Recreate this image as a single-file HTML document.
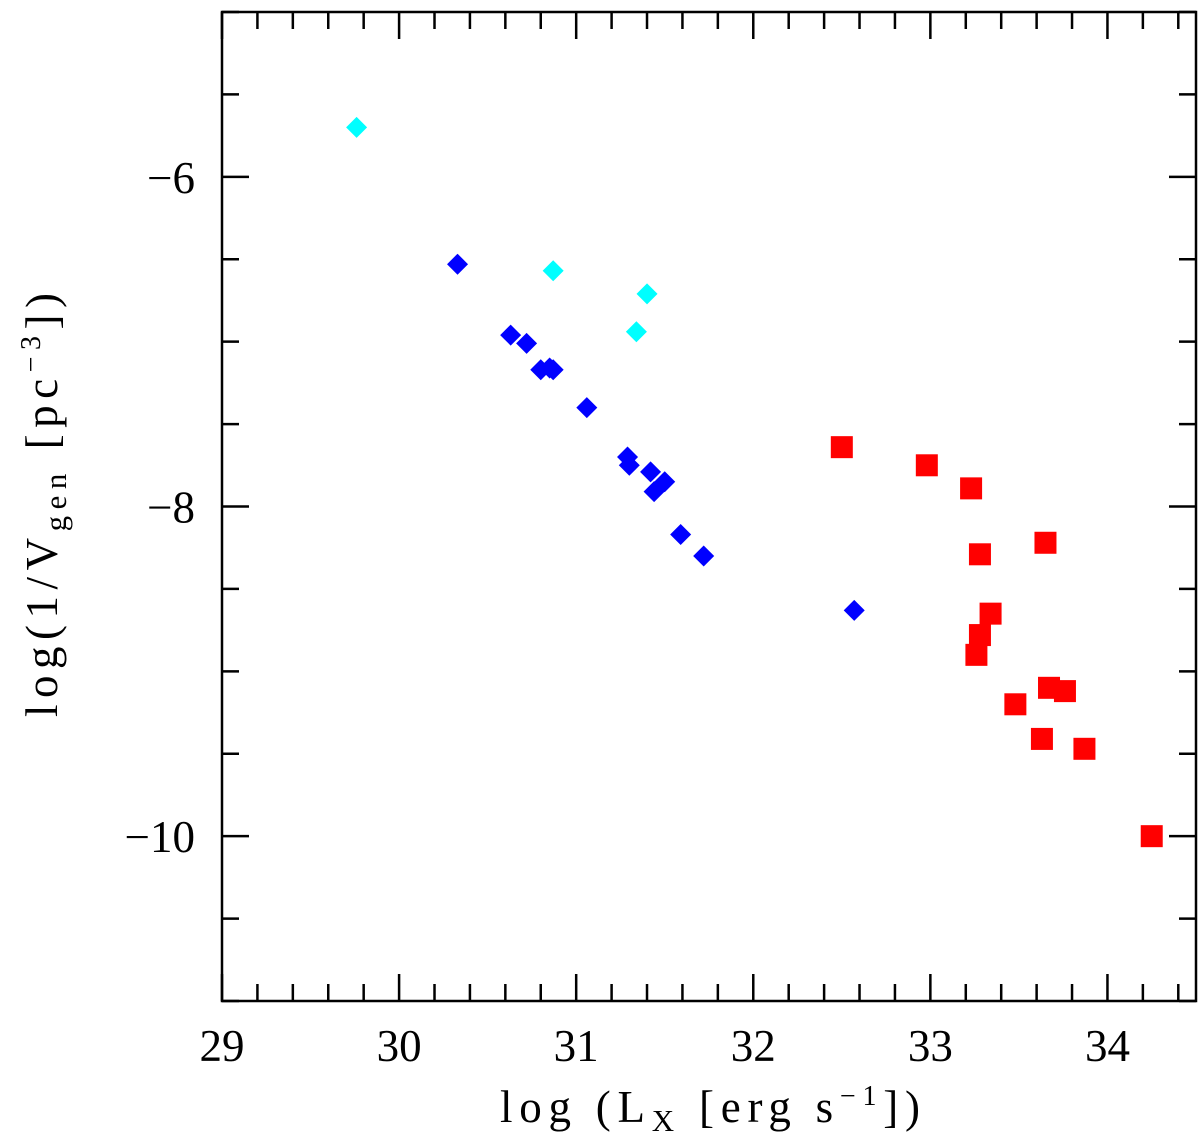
<!DOCTYPE html>
<html><head><meta charset="utf-8"><style>
html,body{margin:0;padding:0;background:#fff;}
svg{display:block;font-family:"Liberation Serif","DejaVu Serif",serif;}
</style></head><body>
<svg id="chart" width="1200" height="1137" viewBox="0 0 1200 1137" xmlns="http://www.w3.org/2000/svg">
<g id="axes"></g>
<g id="marks"></g>
<text x="500" y="1122" font-size="45" textLength="420" lengthAdjust="spacing">log (L<tspan font-size="31" dy="9">X</tspan><tspan dy="-9"> [erg s</tspan><tspan font-size="28" dy="-17">−1</tspan><tspan dy="17">])</tspan></text>
<text transform="translate(57,717) rotate(-90)" font-size="45" textLength="424" lengthAdjust="spacing">log(1/V<tspan font-size="31" dy="9">gen</tspan><tspan dy="-9">  [pc</tspan><tspan font-size="28" dy="-17">−3</tspan><tspan dy="17">])</tspan></text>
</svg>
<script>
const xTickLabels=[29,30,31,32,33,34];
const yTickLabels=[-6,-8,-10];
const cyanX=[29.76,30.87,31.40,31.34];
const cyanY=[-5.70,-6.57,-6.71,-6.94];
const blueX=[30.33,30.63,30.72,30.80,30.85,30.87,31.06,31.29,31.30,31.42,31.44,31.50,31.59,31.72,32.57];
const blueY=[-6.53,-6.96,-7.01,-7.17,-7.16,-7.17,-7.40,-7.70,-7.75,-7.79,-7.91,-7.85,-8.17,-8.30,-8.63];
const redX=[32.50,32.98,33.23,33.65,33.28,33.34,33.28,33.26,33.48,33.67,33.76,33.63,33.87,34.25];
const redY=[-7.64,-7.75,-7.89,-8.22,-8.29,-8.65,-8.78,-8.90,-9.20,-9.10,-9.12,-9.41,-9.47,-10.00];

const L=222,R=1196,T=12,B=1001,XMIN=29,XMAX=34.5,YMIN=-11,YMAX=-5;
const sx=v=>L+(v-XMIN)*(R-L)/(XMAX-XMIN);
const sy=v=>B-(v-YMIN)*(B-T)/(YMAX-YMIN);
const NS="http://www.w3.org/2000/svg";
const axes=document.getElementById('axes'),marks=document.getElementById('marks');
function mk(tag,attrs,parent){const e=document.createElementNS(NS,tag);for(const k in attrs)e.setAttribute(k,attrs[k]);parent.appendChild(e);return e;}
const frame=mk('rect',{x:L,y:T,width:R-L,height:B-T,fill:'none',stroke:'#000','stroke-width':2.5},axes);


for(let i=0;i<=27;i++){const v=XMIN+i*0.2;if(v>XMAX+1e-6)break;const major=Math.abs(v-Math.round(v))<1e-6;const len=major?27:17;const x=sx(v);
 const t1=mk('line',{x1:x,x2:x,y1:B,y2:B-len,stroke:'#000','stroke-width':2.5},axes);
 
 
 const t2=mk('line',{x1:x,x2:x,y1:T,y2:T+len,stroke:'#000','stroke-width':2.5},axes);
 
 }
for(let i=0;i<=12;i++){const v=YMIN+i*0.5;const major=Math.abs(v-Math.round(v))<1e-6&&Math.round(v)%2===0;const len=major?27:17;const y=sy(v);
 const t1=mk('line',{x1:L,x2:L+len,y1:y,y2:y,stroke:'#000','stroke-width':2.5},axes);
 
 
 const t2=mk('line',{x1:R,x2:R-len,y1:y,y2:y,stroke:'#000','stroke-width':2.5},axes);
 
 }
xTickLabels.forEach(v=>{const t=mk('text',{x:sx(v),y:1061,'font-size':45,'text-anchor':'middle'},axes);t.textContent=String(v);
 
 });
yTickLabels.forEach(v=>{const t=mk('text',{x:195,y:sy(v)+16,'font-size':45,'text-anchor':'end'},axes);t.textContent='−'+Math.abs(v);
 
 });
function diamonds(xs,ys,color,name){xs.forEach((xv,i)=>{const x=sx(xv),y=sy(ys[i]),h=10.5;
 const p=mk('polygon',{points:`${x},${y-h} ${x+h},${y} ${x},${y+h} ${x-h},${y}`,fill:color},marks);
 
 });}
diamonds(cyanX,cyanY,'#00ffff','cyan-point');
diamonds(blueX,blueY,'#0000ff','blue-point');
redX.forEach((xv,i)=>{const x=sx(xv),y=sy(redY[i]),h=11;
 const r=mk('rect',{x:x-h,y:y-h,width:2*h,height:2*h,fill:'#ff0000'},marks);
 
 });
</script>
</body></html>
